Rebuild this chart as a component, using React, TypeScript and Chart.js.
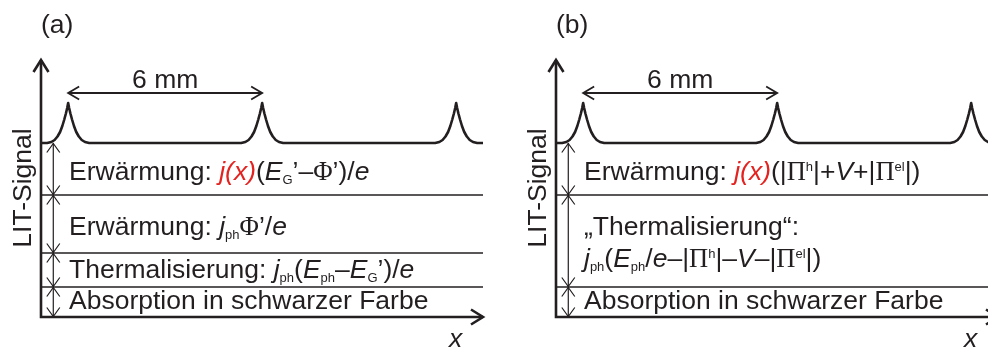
import { useEffect, useRef } from 'react';
import { Chart, registerables } from 'chart.js';

Chart.register(...registerables);

// ---------------- data ----------------
const X_MAX_MM = 13.67; // length of the x axis in mm
const Y_MAX = 25.7; // top of the LIT-signal axis (arb. units)
const BASELINE = 17.4; // LIT signal between the fingers
const PEAK_CENTERS_MM = [0.84, 6.84, 12.84]; // grid fingers, 6 mm apart
const PEAK_DX_MM = [0, 0.03, 0.07, 0.12, 0.18, 0.25, 0.33, 0.42, 0.52, 0.65];
const PEAK_DY = [4.0, 3.5, 2.95, 2.35, 1.7, 1.1, 0.65, 0.3, 0.1, 0];
const LEVELS_A = [3.0, 6.4, 12.2]; // boundaries of contributions, panel (a)
const LEVELS_B = [3.0, 12.2]; // boundaries of contributions, panel (b)
const ARROW_X_MM = 0.38; // x of the double arrows
const SPACING_MM = 6;
const SPACING_Y = 22.4;
const SPACING_LABEL = '6 mm';
const Y_TITLE = 'LIT-Signal';
const X_TITLE = 'x';

type Seg = { t: string; k?: 'n' | 'i' | 'sub' | 'sup' | 'sym'; c?: string };

const RED = '#e42320';
const INK = '#231f20';

const TEXT_A: Seg[][] = [
  [
    { t: 'Erwärmung: ' },
    { t: 'j(x)', k: 'i', c: RED },
    { t: '(' },
    { t: 'E', k: 'i' },
    { t: 'G', k: 'sub' },
    { t: '’–' },
    { t: 'Φ', k: 'sym' },
    { t: '’)/' },
    { t: 'e', k: 'i' },
  ],
  [
    { t: 'Erwärmung: ' },
    { t: 'j', k: 'i' },
    { t: 'ph', k: 'sub' },
    { t: 'Φ', k: 'sym' },
    { t: '’/' },
    { t: 'e', k: 'i' },
  ],
  [
    { t: 'Thermalisierung: ' },
    { t: 'j', k: 'i' },
    { t: 'ph', k: 'sub' },
    { t: '(' },
    { t: 'E', k: 'i' },
    { t: 'ph', k: 'sub' },
    { t: '–' },
    { t: 'E', k: 'i' },
    { t: 'G', k: 'sub' },
    { t: '’)/' },
    { t: 'e', k: 'i' },
  ],
  [{ t: 'Absorption in schwarzer Farbe' }],
];

const TEXT_B: Seg[][] = [
  [
    { t: 'Erwärmung: ' },
    { t: 'j(x)', k: 'i', c: RED },
    { t: '(|' },
    { t: 'Π', k: 'sym' },
    { t: 'h', k: 'sup' },
    { t: '|+' },
    { t: 'V', k: 'i' },
    { t: '+|' },
    { t: 'Π', k: 'sym' },
    { t: 'el', k: 'sup' },
    { t: '|)' },
  ],
  [{ t: '„Thermalisierung“:' }],
  [
    { t: 'j', k: 'i' },
    { t: 'ph', k: 'sub' },
    { t: '(' },
    { t: 'E', k: 'i' },
    { t: 'ph', k: 'sub' },
    { t: '/' },
    { t: 'e', k: 'i' },
    { t: '–|' },
    { t: 'Π', k: 'sym' },
    { t: 'h', k: 'sup' },
    { t: '|–' },
    { t: 'V', k: 'i' },
    { t: '–|' },
    { t: 'Π', k: 'sym' },
    { t: 'el', k: 'sup' },
    { t: '|)' },
  ],
  [{ t: 'Absorption in schwarzer Farbe' }],
];

type Panel = {
  tag: string;
  levels: number[];
  lines: Seg[][];
  baselines: number[]; // text baselines, px
};

const PANEL_A: Panel = { tag: '(a)', levels: LEVELS_A, lines: TEXT_A, baselines: [180, 235, 278, 309] };
const PANEL_B: Panel = { tag: '(b)', levels: LEVELS_B, lines: TEXT_B, baselines: [180, 235, 267, 309] };

// ---------------- drawing helpers ----------------
const SANS = '"Liberation Sans", Arial, Helvetica, sans-serif';
const SERIF = '"Liberation Serif", "Times New Roman", serif';
const FS = 26.5;

function drawRich(ctx: CanvasRenderingContext2D, segs: Seg[], x: number, y: number) {
  let cx = x;
  for (const s of segs) {
    let font = `${FS}px ${SANS}`;
    let dy = 0;
    if (s.k === 'i') font = `italic ${FS}px ${SANS}`;
    else if (s.k === 'sub') {
      font = `13px ${SANS}`;
      dy = 3.5;
    } else if (s.k === 'sup') {
      font = `13px ${SANS}`;
      dy = -9;
    } else if (s.k === 'sym') font = `${FS}px ${SERIF}`;
    ctx.font = font;
    ctx.fillStyle = s.c || INK;
    ctx.fillText(s.t, cx, y + dy);
    cx += ctx.measureText(s.t).width;
  }
}

function head(
  ctx: CanvasRenderingContext2D,
  tx: number,
  ty: number,
  dx: number,
  dy: number,
  len: number,
  half: number
) {
  const bx = tx - dx * len;
  const by = ty - dy * len;
  const px = -dy;
  const py = dx;
  ctx.beginPath();
  ctx.moveTo(bx + px * half, by + py * half);
  ctx.lineTo(tx, ty);
  ctx.lineTo(bx - px * half, by - py * half);
  ctx.stroke();
}

function buildCurve() {
  const pts: { x: number; y: number }[] = [{ x: 0, y: BASELINE }];
  for (const c of PEAK_CENTERS_MM) {
    for (let i = PEAK_DX_MM.length - 1; i >= 0; i--) pts.push({ x: c - PEAK_DX_MM[i], y: BASELINE + PEAK_DY[i] });
    for (let i = 1; i < PEAK_DX_MM.length; i++) pts.push({ x: c + PEAK_DX_MM[i], y: BASELINE + PEAK_DY[i] });
  }
  pts.push({ x: X_MAX_MM, y: BASELINE });
  return pts;
}

function overlay(panel: Panel) {
  return {
    id: 'overlay',
    afterDatasetsDraw(chart: any) {
      const { ctx, chartArea: a, scales } = chart;
      const xs = scales.x;
      const ys = scales.y;
      ctx.save();
      ctx.strokeStyle = INK;
      ctx.fillStyle = INK;
      ctx.lineCap = 'butt';
      ctx.lineJoin = 'miter';

      // axes with arrows
      ctx.lineWidth = 2.6;
      ctx.beginPath();
      ctx.moveTo(a.left, a.bottom);
      ctx.lineTo(a.left, a.top);
      ctx.moveTo(a.left - 1.3, a.bottom);
      ctx.lineTo(a.right, a.bottom);
      ctx.stroke();
      head(ctx, a.left, a.top, 0, -1, 12, 7.5);
      head(ctx, a.right, a.bottom, 1, 0, 12, 7.5);

      // double arrows between contribution levels
      const stops = [0, ...panel.levels, BASELINE];
      const ax = xs.getPixelForValue(ARROW_X_MM);
      ctx.lineWidth = 1.2;
      for (let i = 0; i < stops.length - 1; i++) {
        const y0 = ys.getPixelForValue(stops[i]);
        const y1 = ys.getPixelForValue(stops[i + 1]);
        ctx.beginPath();
        ctx.moveTo(ax, y0);
        ctx.lineTo(ax, y1);
        ctx.stroke();
        head(ctx, ax, y0 - 0.5, 0, 1, 9, 6.5);
        head(ctx, ax, y1 + 0.5, 0, -1, 9, 6.5);
      }

      // 6 mm dimension arrow
      const p0 = xs.getPixelForValue(PEAK_CENTERS_MM[0]);
      const p1 = xs.getPixelForValue(PEAK_CENTERS_MM[0] + SPACING_MM);
      const py = ys.getPixelForValue(SPACING_Y);
      ctx.lineWidth = 1.8;
      ctx.beginPath();
      ctx.moveTo(p0, py);
      ctx.lineTo(p1, py);
      ctx.stroke();
      head(ctx, p0, py, -1, 0, 11, 6.5);
      head(ctx, p1, py, 1, 0, 11, 6.5);
      ctx.font = `${FS}px ${SANS}`;
      ctx.textAlign = 'center';
      ctx.textBaseline = 'alphabetic';
      ctx.fillText(SPACING_LABEL, (p0 + p1) / 2, py - 5);

      // panel tag
      ctx.textAlign = 'left';
      ctx.fillText(panel.tag, a.left, 33);

      // x-axis title
      ctx.font = `italic ${FS}px ${SANS}`;
      ctx.fillText(X_TITLE, a.right - 34, 347);

      // y-axis title
      ctx.save();
      ctx.translate(a.left - 10, 188);
      ctx.rotate(-Math.PI / 2);
      ctx.font = `${FS}px ${SANS}`;
      ctx.textAlign = 'center';
      ctx.fillText(Y_TITLE, 0, 0);
      ctx.restore();

      // contribution labels
      ctx.textAlign = 'left';
      panel.lines.forEach((segs, i) => drawRich(ctx, segs, a.left + 28, panel.baselines[i]));

      ctx.restore();
    },
  };
}

function makePanel(canvas: HTMLCanvasElement, panel: Panel) {
  const curve = buildCurve();
  return new Chart(canvas, {
    type: 'line',
    data: {
      datasets: [
        {
          data: curve,
          borderColor: INK,
          borderWidth: 2.6,
          pointRadius: 0,
          tension: 0,
          fill: false,
          clip: false as any,
          borderJoinStyle: 'round',
        } as any,
        ...panel.levels.map(
          (L) =>
            ({
              data: [
                { x: 0, y: L },
                { x: X_MAX_MM, y: L },
              ],
              borderColor: INK,
              borderWidth: 1.3,
              pointRadius: 0,
              fill: false,
              clip: false,
            }) as any
        ),
      ],
    },
    options: {
      animation: false,
      responsive: false,
      events: [],
      layout: { padding: { left: 41, right: 11, top: 60, bottom: 33 } },
      scales: {
        x: { type: 'linear', min: 0, max: X_MAX_MM, display: false },
        y: { type: 'linear', min: 0, max: Y_MAX, display: false },
      },
      plugins: { legend: { display: false }, tooltip: { enabled: false } },
    },
    plugins: [overlay(panel) as any],
  });
}

export default function App() {
  const refA = useRef<HTMLCanvasElement>(null);
  const refB = useRef<HTMLCanvasElement>(null);
  useEffect(() => {
    const charts = [makePanel(refA.current!, PANEL_A), makePanel(refB.current!, PANEL_B)];
    const fonts = (document as any).fonts;
    if (fonts && fonts.load) {
      Promise.all([
        fonts.load(`${FS}px "Liberation Sans"`),
        fonts.load(`italic ${FS}px "Liberation Sans"`),
        fonts.load(`${FS}px "Liberation Serif"`),
      ])
        .then(() => charts.forEach((c) => c.draw()))
        .catch(() => {});
    }
    return () => charts.forEach((c) => c.destroy());
  }, []);
  return (
    <div
      style={{
        position: 'fixed',
        left: 0,
        top: 0,
        width: 988,
        height: 350,
        overflow: 'hidden',
        background: '#fff',
      }}
    >
      <canvas
        ref={refA}
        width={494}
        height={350}
        style={{ position: 'absolute', left: 0, top: 0, width: 494, height: 350 }}
      />
      <canvas
        ref={refB}
        width={494}
        height={350}
        style={{ position: 'absolute', left: 515, top: 0, width: 494, height: 350 }}
      />
    </div>
  );
}
